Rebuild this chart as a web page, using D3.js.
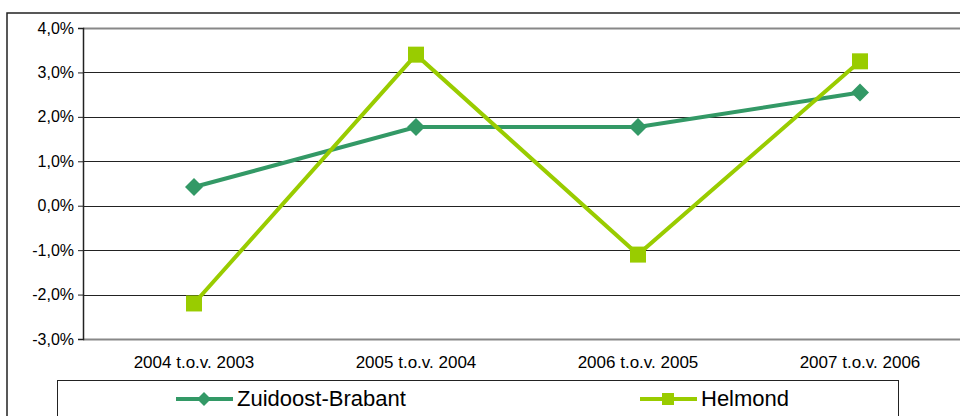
<!DOCTYPE html>
<html>
<head>
<meta charset="utf-8">
<script src="https://cdn.jsdelivr.net/npm/d3@7"></script>
<style>
  body { margin: 0; background: #fff; }
  svg { display: block; }
  svg text { font-family: "Liberation Sans", Arial, sans-serif; }
</style>
</head>
<body>
<svg id="chart" width="960" height="416"></svg>
<script>
// Data
const categories = ["2004 t.o.v. 2003", "2005 t.o.v. 2004", "2006 t.o.v. 2005", "2007 t.o.v. 2006"];
const zuidoost = [0.42, 1.77, 1.77, 2.55];
const helmond = [-2.2, 3.4, -1.1, 3.25];
const yTicks = [-3, -2, -1, 0, 1, 2, 3, 4];

const series = [
  { name: "Zuidoost-Brabant", values: zuidoost, color: "#339966", shape: "diamond" },
  { name: "Helmond", values: helmond, color: "#99cc00", shape: "square" }
];

const svg = d3.select("#chart");

// outer frame (runs off the page right/bottom)
svg.append("rect")
  .attr("x", 7).attr("y", 13)
  .attr("width", 1000).attr("height", 500)
  .attr("fill", "none")
  .attr("stroke", "#222")
  .attr("stroke-width", 1.5);

const plotLeft = 83, plotTop = 28, plotBottom = 339, bandW = 222;

const x = d3.scalePoint()
  .domain(categories)
  .range([plotLeft + bandW / 2, plotLeft + bandW * 3.5]);

const y = d3.scaleLinear()
  .domain([-3, 4])
  .range([plotBottom, plotTop]);

// gridlines
svg.append("g")
  .selectAll("line")
  .data(yTicks)
  .join("line")
  .attr("x1", plotLeft).attr("x2", 980)
  .attr("y1", d => Math.round(y(d)) + 0.5)
  .attr("y2", d => Math.round(y(d)) + 0.5)
  .attr("stroke", d => (d === 4 || d === -3) ? "#888" : "#222")
  .attr("stroke-width", d => (d === 4 || d === -3) ? 2 : 1);

// y axis
const yAxis = d3.axisLeft(y)
  .tickValues(yTicks)
  .tickSize(5)
  .tickPadding(4)
  .tickFormat(d => d3.format(".1f")(d).replace(".", ",").replace("−", "-") + "%");

const gy = svg.append("g")
  .attr("transform", `translate(${plotLeft},0)`)
  .call(yAxis)
  .attr("font-family", null);
gy.select(".domain").attr("stroke", "#222").attr("stroke-width", 1.5);
gy.selectAll(".tick line").attr("stroke", "#222");
gy.selectAll(".tick text")
  .style("font-size", "16px")
  .attr("fill", "#000");

// x labels
svg.append("g")
  .selectAll("text")
  .data(categories)
  .join("text")
  .attr("x", d => x(d))
  .attr("y", 368)
  .attr("text-anchor", "middle")
  .style("font-size", "17px")
  .attr("fill", "#000")
  .text(d => d);

const line = d3.line()
  .x((d, i) => x(categories[i]))
  .y(d => y(d));

function marker(g, shape, color, cx, cy, s) {
  if (shape === "diamond") {
    g.append("path")
      .attr("d", `M${cx},${cy - s}L${cx + s},${cy}L${cx},${cy + s}L${cx - s},${cy}Z`)
      .attr("fill", color);
  } else {
    g.append("rect")
      .attr("x", cx - s).attr("y", cy - s)
      .attr("width", 2 * s).attr("height", 2 * s)
      .attr("fill", color);
  }
}

series.forEach(s => {
  const g = svg.append("g");
  g.append("path")
    .datum(s.values)
    .attr("d", line)
    .attr("fill", "none")
    .attr("stroke", s.color)
    .attr("stroke-width", 4);
  s.values.forEach((v, i) => {
    marker(g, s.shape, s.color, x(categories[i]), y(v), s.shape === "diamond" ? 9 : 8);
  });
});

// legend
svg.append("rect")
  .attr("x", 57.5).attr("y", 380.5)
  .attr("width", 841).attr("height", 60)
  .attr("fill", "#fff")
  .attr("stroke", "#222")
  .attr("stroke-width", 1);

const legendX = [176, 640];
series.forEach((s, i) => {
  const g = svg.append("g");
  const lx = legendX[i], ly = 399;
  g.append("line")
    .attr("x1", lx).attr("x2", lx + 57)
    .attr("y1", ly).attr("y2", ly)
    .attr("stroke", s.color)
    .attr("stroke-width", 4);
  marker(g, s.shape, s.color, lx + 28, ly, s.shape === "diamond" ? 7 : 6);
  g.append("text")
    .attr("x", lx + 61)
    .attr("y", 406)
    .style("font-size", "22px")
    .attr("fill", "#000")
    .text(s.name);
});
</script>
</body>
</html>
